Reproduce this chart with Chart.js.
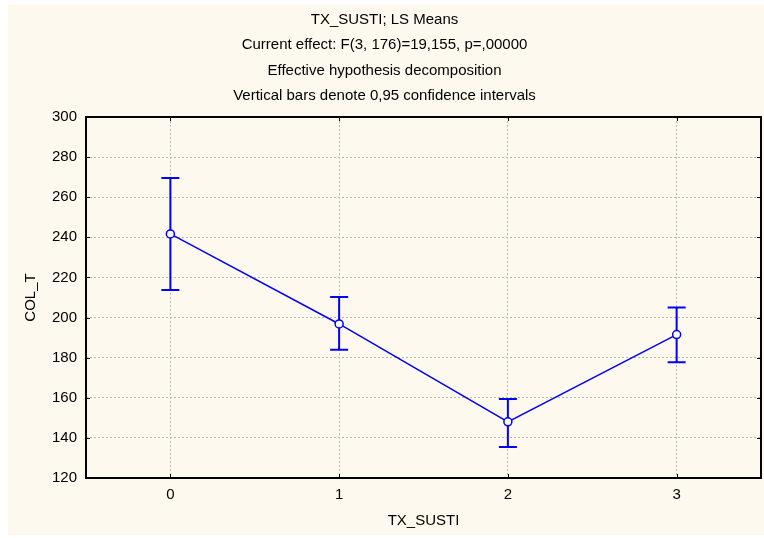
<!DOCTYPE html>
<html>
<head>
<meta charset="utf-8">
<script src="https://cdn.jsdelivr.net/npm/chart.js@4/dist/chart.umd.min.js"></script>
<style>
  html, body { margin: 0; padding: 0; background: #ffffff; }
  #marco {
    position: absolute; left: 8px; top: 5px;
    width: 756px; height: 530px;
    background: #fef9ee;
  }
</style>
</head>
<body>
<div id="marco"><canvas id="grafico"></canvas></div>
<script>
// Datos
const categorias = ["0", "1", "2", "3"];
const medias = [241.7, 196.8, 148.0, 191.5];
const limiteSuperior = [269.6, 210.3, 159.4, 205.0];
const limiteInferior = [213.8, 183.9, 135.5, 177.7];
const ticksY = [120, 140, 160, 180, 200, 220, 240, 260, 280, 300];

const titulo = [
  "TX_SUSTI; LS Means",
  "Current effect: F(3, 176)=19,155, p=,00000",
  "Effective hypothesis decomposition",
  "Vertical bars denote 0,95 confidence intervals"
];

const azul = "#0000ff";

Chart.defaults.font.family = "'Liberation Sans', Arial, sans-serif";
Chart.defaults.font.size = 15;
Chart.defaults.color = "#000000";

// Barras de error (intervalos de confianza)
const barrasError = {
  id: "barrasError",
  beforeDatasetsDraw(chart) {
    const ctx = chart.ctx;
    const x = chart.scales.x;
    const y = chart.scales.y;
    ctx.save();
    ctx.strokeStyle = azul;
    ctx.lineWidth = 2;
    for (let i = 0; i < categorias.length; i++) {
      const px = x.getPixelForValue(i);
      const top = y.getPixelForValue(limiteSuperior[i]);
      const bot = y.getPixelForValue(limiteInferior[i]);
      ctx.beginPath();
      ctx.moveTo(px, top); ctx.lineTo(px, bot);
      ctx.moveTo(px - 9, top); ctx.lineTo(px + 9, top);
      ctx.moveTo(px - 9, bot); ctx.lineTo(px + 9, bot);
      ctx.stroke();
    }
    ctx.restore();
  }
};

// Marco del area de dibujo con marcas hacia dentro
const marco = {
  id: "marco",
  afterDatasetsDraw(chart) {
    const ctx = chart.ctx;
    const a = chart.chartArea;
    const x = chart.scales.x;
    const y = chart.scales.y;
    ctx.save();
    ctx.strokeStyle = "#000000";
    ctx.lineWidth = 1;
    ctx.beginPath();
    y.ticks.forEach(t => {
      const py = Math.round(y.getPixelForValue(t.value)) + 0.5;
      ctx.moveTo(a.left, py); ctx.lineTo(a.left + 4, py);
      ctx.moveTo(a.right, py); ctx.lineTo(a.right - 4, py);
    });
    for (let i = 0; i < categorias.length; i++) {
      const px = Math.round(x.getPixelForValue(i)) + 0.5;
      ctx.moveTo(px, a.top); ctx.lineTo(px, a.top + 4);
      ctx.moveTo(px, a.bottom); ctx.lineTo(px, a.bottom - 4);
    }
    ctx.stroke();
    ctx.lineWidth = 2;
    ctx.strokeRect(a.left, a.top, a.right - a.left, a.bottom - a.top);
    ctx.restore();
  }
};

const rejilla = {
  color: "#b8b8b8",
  lineWidth: 1,
  drawTicks: false
};

new Chart(document.getElementById("grafico"), {
  type: "line",
  data: {
    labels: categorias,
    datasets: [{
      data: medias,
      borderColor: azul,
      borderWidth: 1.5,
      pointRadius: 4,
      pointBorderWidth: 1.5,
      pointBackgroundColor: "#ffffff",
      pointBorderColor: azul,
      tension: 0
    }]
  },
  options: {
    responsive: true,
    maintainAspectRatio: false,
    animation: false,
    layout: { autoPadding: false, padding: { left: 0, right: 3, top: 0, bottom: 0 } },
    plugins: {
      legend: { display: false },
      tooltip: { enabled: false },
      title: {
        display: true,
        text: titulo,
        font: { size: 15, weight: "normal", lineHeight: 1.7 },
        color: "#000000",
        padding: { top: 2, bottom: 8 }
      }
    },
    scales: {
      x: {
        type: "category",
        offset: true,
        grid: Object.assign({ offset: false }, rejilla),
        border: { display: false, dash: [2, 2] },
        ticks: { padding: 8, color: "#000000" },
        title: { display: true, text: "TX_SUSTI", padding: { top: 0, bottom: 5 } },
        afterFit(scale) {
          scale.height = 57;
          scale.paddingLeft = 0;
          scale.paddingRight = 0;
        }
      },
      y: {
        min: 120,
        max: 300,
        grid: rejilla,
        border: { display: false, dash: [2, 2] },
        afterBuildTicks(scale) { scale.ticks = ticksY.map(v => ({ value: v })); },
        ticks: { padding: 9, color: "#000000" },
        title: { display: true, text: "COL_T", padding: { top: 14, bottom: 0 } },
        afterFit(scale) { scale.width = 78; }
      }
    }
  },
  plugins: [barrasError, marco]
});
</script>
</body>
</html>
